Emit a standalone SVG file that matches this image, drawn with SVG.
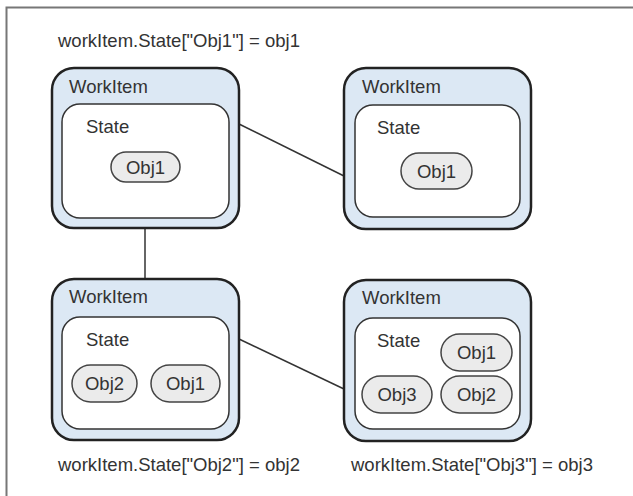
<svg xmlns="http://www.w3.org/2000/svg" width="633" height="496" viewBox="0 0 633 496">
<style>
text{font-family:"Liberation Sans",Arial,sans-serif;font-size:18.5px;fill:#333}
.wi{fill:#dce8f4;stroke:#222;stroke-width:2.5}
.st{fill:#fff;stroke:#333;stroke-width:1.5}
.ob{fill:#ebebeb;stroke:#444;stroke-width:1.5}
.c{stroke:#333;stroke-width:1.5;fill:none}
.ot{text-anchor:middle}
</style>
<rect width="633" height="496" fill="#fff"/>
<path d="M6.5 496 V7.5 H633" fill="none" stroke="#777" stroke-width="2"/>
<text x="58" y="47">workItem.State["Obj1"] = obj1</text>
<text x="58" y="471">workItem.State["Obj2"] = obj2</text>
<text x="351" y="471">workItem.State["Obj3"] = obj3</text>
<g id="connectors">
<line class="c" x1="239" y1="124" x2="344" y2="176"/>
<line class="c" x1="145" y1="228" x2="145" y2="279"/>
<line class="c" x1="239" y1="339" x2="344" y2="389"/>
</g>
<g id="workitem1">
<rect class="wi" x="52" y="68" width="187" height="160" rx="22"/>
<text x="69" y="93">WorkItem</text>
<rect class="st" x="62" y="104" width="167" height="114" rx="18"/>
<text x="86" y="133">State</text>
<rect class="ob" x="111" y="152" width="69" height="30" rx="15"/>
<text class="ot" x="145.5" y="174">Obj1</text>
</g>
<g id="workitem2">
<rect class="wi" x="344" y="68" width="187" height="161" rx="22"/>
<text x="362" y="93">WorkItem</text>
<rect class="st" x="355" y="105" width="165" height="112" rx="18"/>
<text x="377" y="134">State</text>
<rect class="ob" x="401" y="153" width="71" height="36" rx="18"/>
<text class="ot" x="436.5" y="178">Obj1</text>
</g>
<g id="workitem3">
<rect class="wi" x="52" y="279" width="187" height="161" rx="22"/>
<text x="69" y="303">WorkItem</text>
<rect class="st" x="62" y="317" width="167" height="112" rx="18"/>
<text x="86" y="346">State</text>
<rect class="ob" x="72" y="365" width="65" height="37" rx="18.5"/>
<text class="ot" x="104.5" y="390">Obj2</text>
<rect class="ob" x="151" y="365" width="69" height="37" rx="18.5"/>
<text class="ot" x="185.5" y="390">Obj1</text>
</g>
<g id="workitem4">
<rect class="wi" x="344" y="280" width="187" height="161" rx="22"/>
<text x="362" y="304">WorkItem</text>
<rect class="st" x="355" y="318" width="165" height="111" rx="18"/>
<text x="377" y="347">State</text>
<rect class="ob" x="441" y="334" width="71" height="37" rx="18.5"/>
<text class="ot" x="476.5" y="359">Obj1</text>
<rect class="ob" x="362" y="376" width="70" height="37" rx="18.5"/>
<text class="ot" x="397" y="401">Obj3</text>
<rect class="ob" x="441" y="376" width="71" height="37" rx="18.5"/>
<text class="ot" x="476.5" y="401">Obj2</text>
</g>
</svg>
